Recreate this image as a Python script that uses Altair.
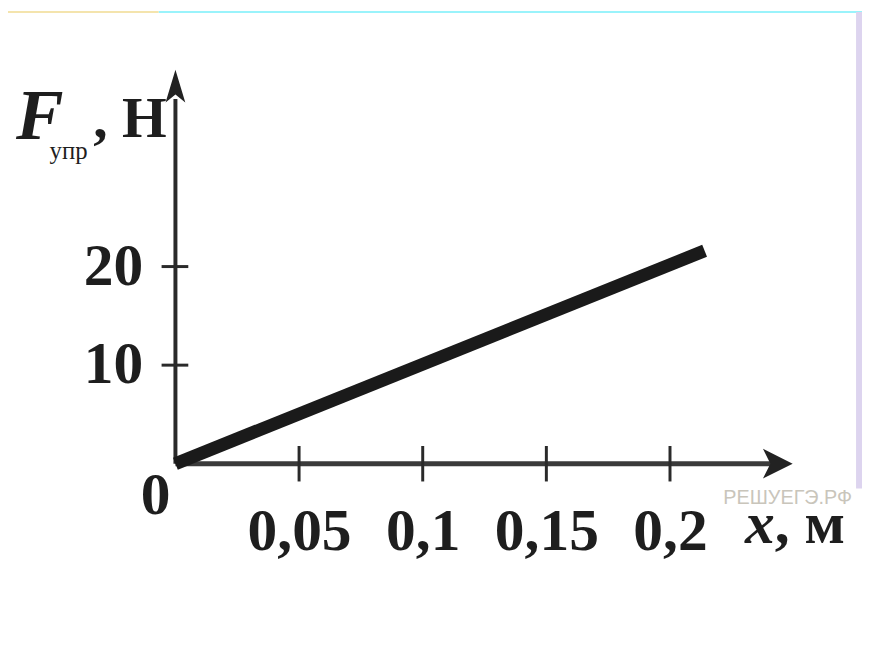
import altair as alt
import pandas as pd

# ---- data ----
line_x = [0.0, 0.214]          # x, м
line_f = [0.0, 21.6]           # F_упр, Н
x_ticks = [0.05, 0.1, 0.15, 0.2]
y_ticks = [10, 20]
x_axis_end = 0.2456            # arrow base (x, м)
y_axis_end = 37.0              # arrow base (F, Н)
x_arrow_pos = 0.2436
y_arrow_pos = 38.3

W, H = 862, 638
X0_PX, Y0_PX = 169, 457        # origin in chart pixels
PX_PER_X = 2496.0
PX_PER_Y = 9.95

xs = alt.Scale(domain=[-X0_PX / PX_PER_X, (W - X0_PX) / PX_PER_X], nice=False, zero=False)
ys = alt.Scale(domain=[-(H - Y0_PX) / PX_PER_Y, Y0_PX / PX_PER_Y], nice=False, zero=False)

SERIF = "Liberation Serif"
INK = "#1e1e1e"

x_axis = alt.Axis(
    orient="bottom", offset=-(H - Y0_PX), values=x_ticks, title=None, grid=False,
    domain=False, ticks=False, tickSize=0, labelPadding=40,
    labelExpr="replace(format(datum.value, '.2~f'), '.', ',')",
    labelFont=SERIF, labelFontSize=60, labelFontWeight="bold", labelColor=INK,
    labelFlush=False, labelOverlap=False,
)
y_axis = alt.Axis(
    orient="left", offset=-X0_PX, values=y_ticks, title=None, grid=False,
    domain=False, ticks=False, tickSize=0, labelPadding=33,
    labelFont=SERIF, labelFontSize=60, labelFontWeight="bold", labelColor=INK,
    labelFlush=False, labelOverlap=False,
)

line_df = pd.DataFrame({"x": line_x, "F": line_f})
xt_df = pd.DataFrame({"x": x_ticks})
yt_df = pd.DataFrame({"F": y_ticks})
ax_df = pd.DataFrame({"x": [0.0], "x2": [x_axis_end], "F": [0.0], "F2": [y_axis_end]})
arr_df = pd.DataFrame({"x": [x_arrow_pos], "F": [y_arrow_pos], "zero": [0.0]})
origin_df = pd.DataFrame({"x": [0.0], "F": [0.0], "t": ["0"]})

# decorative frame pieces
top_cyan = alt.Chart(pd.DataFrame({"a": [0]})).mark_rect(color="#9af3fb").encode(
    x=alt.value(152), x2=alt.value(W), y=alt.value(0), y2=alt.value(2))
top_yellow = alt.Chart(pd.DataFrame({"a": [0]})).mark_rect(color="#f4e4ad").encode(
    x=alt.value(0), x2=alt.value(152), y=alt.value(0), y2=alt.value(2))
right_purple = alt.Chart(pd.DataFrame({"a": [0]})).mark_rect(color="#ddd4ef").encode(
    x=alt.value(856), x2=alt.value(W), y=alt.value(1), y2=alt.value(482))

# axes lines
x_line = alt.Chart(ax_df).mark_rule(color="#3a3a3a", strokeWidth=5).encode(
    x=alt.X("x:Q", scale=xs, axis=x_axis), x2="x2:Q",
    y=alt.Y("zero:Q", scale=ys, axis=y_axis)).transform_calculate(zero="0")
y_line = alt.Chart(ax_df).mark_rule(color="#2a2a2a", strokeWidth=4).encode(
    x=alt.X("x:Q", scale=xs, axis=x_axis),
    y=alt.Y("F:Q", scale=ys, axis=y_axis), y2="F2:Q")

# tick marks crossing the axes
x_tk = alt.Chart(xt_df).transform_calculate(lo="-1.8", hi="1.8").mark_rule(
    color="#2a2a2a", strokeWidth=3).encode(
    x=alt.X("x:Q", scale=xs, axis=x_axis),
    y=alt.Y("lo:Q", scale=ys, axis=y_axis), y2="hi:Q")
y_tk = alt.Chart(yt_df).transform_calculate(lo="-0.0056", hi="0.0052").mark_rule(
    color="#2a2a2a", strokeWidth=3).encode(
    x=alt.X("lo:Q", scale=xs, axis=x_axis), x2="hi:Q",
    y=alt.Y("F:Q", scale=ys, axis=y_axis))

# arrow heads
x_arrow = alt.Chart(arr_df).mark_point(
    shape="M-1,-1 L1,0 L-1,1 L-0.5,0 Z", filled=True, color="#222222", opacity=1, size=900).encode(
    x=alt.X("x:Q", scale=xs, axis=x_axis), y=alt.Y("zero:Q", scale=ys, axis=y_axis))
y_arrow = alt.Chart(arr_df).mark_point(
    shape="M-0.6,1 L0,-1 L0.6,1 L0,0.5 Z", filled=True, color="#222222", opacity=1, size=1100).encode(
    x=alt.X("zero:Q", scale=xs, axis=x_axis), y=alt.Y("F:Q", scale=ys, axis=y_axis))

# the force line
force = alt.Chart(line_df).mark_line(color="#1a1a1a", strokeWidth=13, strokeCap="butt").encode(
    x=alt.X("x:Q", scale=xs, axis=x_axis), y=alt.Y("F:Q", scale=ys, axis=y_axis))

origin_lbl = alt.Chart(origin_df).mark_text(
    font=SERIF, fontSize=60, fontWeight="bold", color=INK, dx=-20, dy=33,
    align="center", baseline="middle").encode(
    x=alt.X("x:Q", scale=xs, axis=x_axis), y=alt.Y("F:Q", scale=ys, axis=y_axis), text="t:N")

def label(txt, x, y, size, style="normal", weight="normal", color=INK, font=SERIF):
    return alt.Chart(pd.DataFrame({"t": [txt]})).mark_text(
        font=font, fontSize=size, fontStyle=style, fontWeight=weight, color=color,
        align="left", baseline="alphabetic").encode(
        x=alt.value(x), y=alt.value(y), text="t:N")

t_F = label("F", 8, 129, 72, style="italic", weight="bold")
t_sub = label("упр", 42, 149, 25)
t_N = label(", Н", 86, 127, 58, weight="bold")
t_x = label("x", 744, 537, 60, style="italic", weight="bold")
t_m = label(", м", 774, 537, 60, weight="bold")
t_wm = label("РЕШУЕГЭ.РФ", 722, 498, 20, color="#c9c5bb", font="Liberation Sans")

chart = alt.layer(
    top_cyan, top_yellow, right_purple,
    x_line, y_line, x_tk, y_tk, force, x_arrow, y_arrow, origin_lbl,
    t_wm, t_F, t_sub, t_N, t_x, t_m,
).properties(
    width=W, height=H, autosize=alt.AutoSizeParams(type="none"), padding=0, background="white"
).configure_view(stroke=None)

chart.save("out.html", embed_options={"renderer": "svg", "actions": False})
